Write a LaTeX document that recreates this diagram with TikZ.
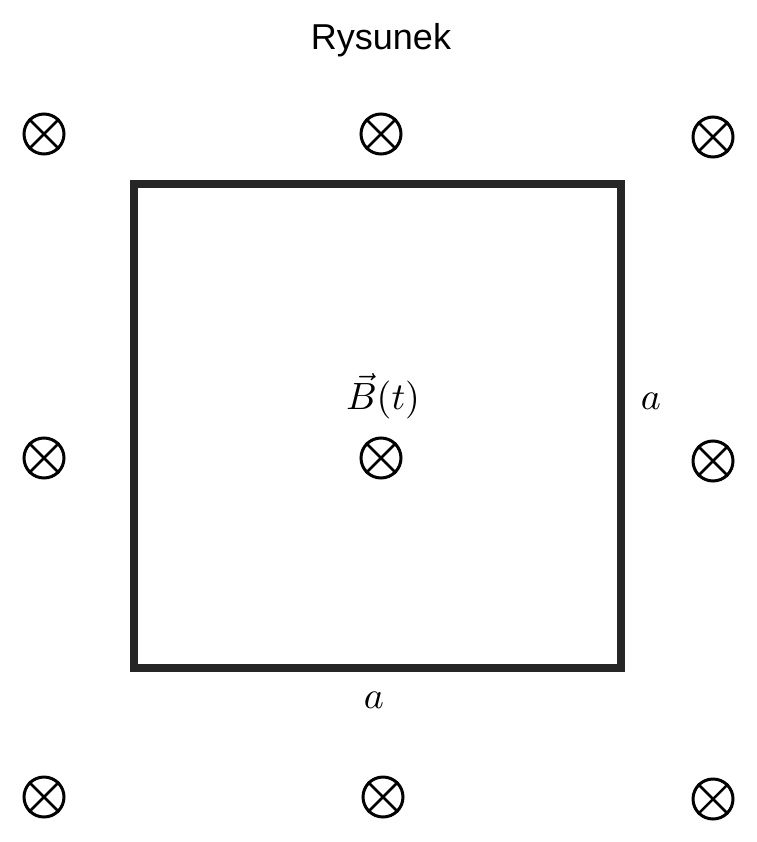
\documentclass[tikz,border=0pt]{standalone}
\usepackage{fontspec}
\setsansfont{Liberation Sans}
\begin{document}
\begin{tikzpicture}[x=1pt,y=-1pt,
  cross/.style={circle,draw,line width=3pt,minimum size=40pt,inner sep=0pt},
  lab/.style={inner sep=0pt,scale=3.8}]
\useasboundingbox (0,0) rectangle (756,842);
\node[inner sep=0pt,font=\sffamily\fontsize{36}{40}\selectfont] (title) at (381,40) {Rysunek};
\node[draw=black!85,line width=8pt,minimum width=487pt,minimum height=484pt,inner sep=0pt] (sq) at (377.5,426) {};
\foreach \n/\x/\y in {a/44/134,b/381/134,c/713/137,d/44/458,e/381/458,f/713/461,g/44/797,h/383/797,i/713/799}{
  \node[cross] (\n) at (\x,\y) {};
  \draw[line width=2.5pt] (\n.north west) -- (\n.south east) (\n.north east) -- (\n.south west);}
\node[lab] (B) at (383,396) {$\vec{B}(t)$};
\node[lab] (ar) at (651,401) {$a$};
\node[lab] (ab) at (374,700) {$a$};
\end{tikzpicture}
\end{document}
